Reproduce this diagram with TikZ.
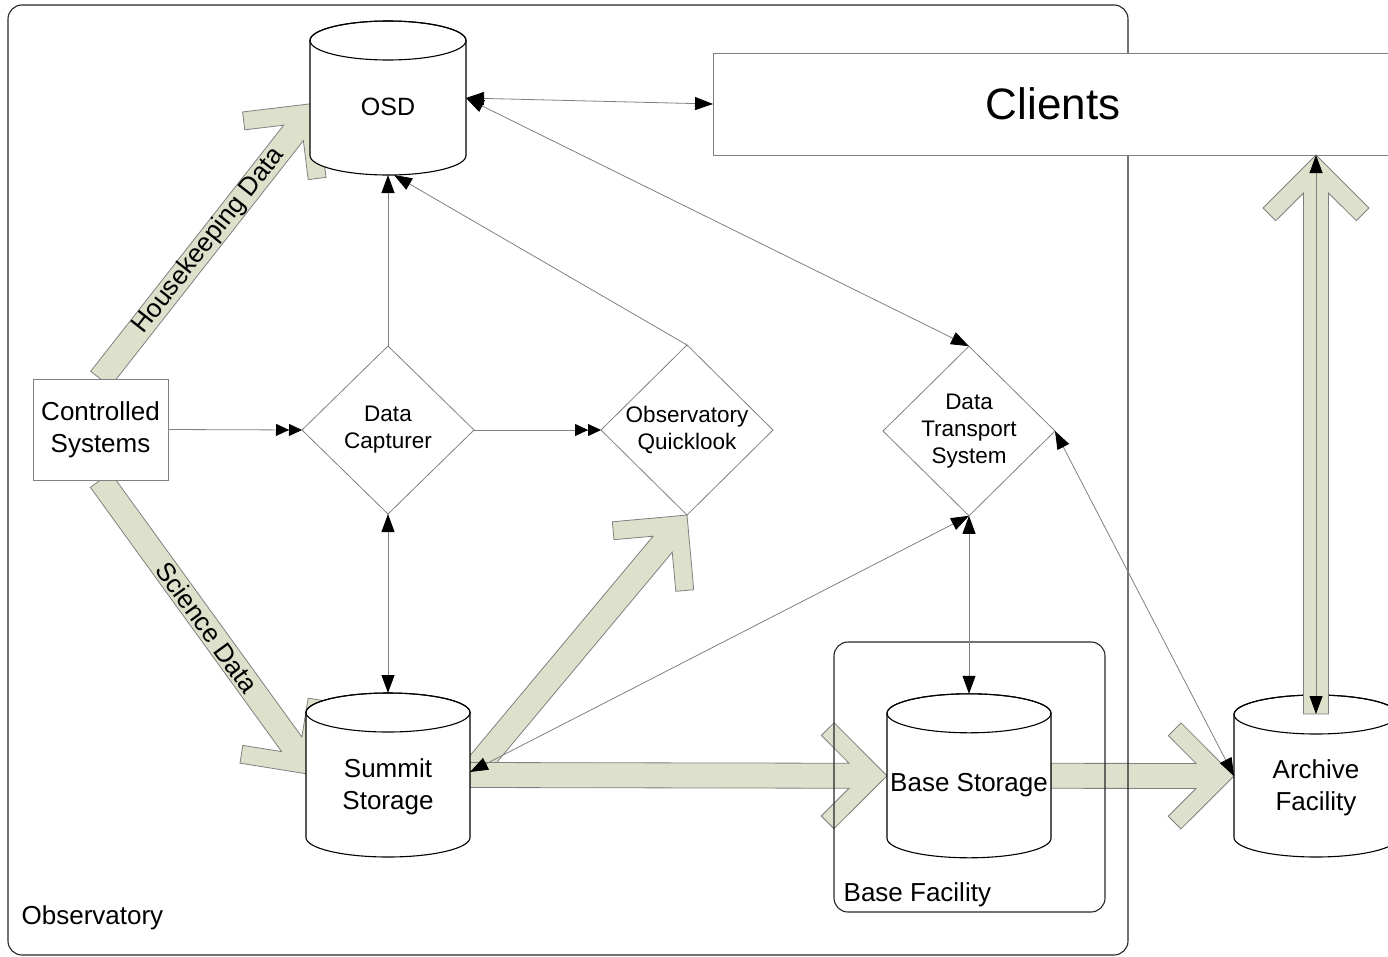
\documentclass[tikz,border=0pt]{standalone}
\usepackage{fontspec}
\setmainfont{Liberation Sans}
\usetikzlibrary{shapes.geometric,arrows.meta,positioning,calc,backgrounds}
\definecolor{FlowFill}{HTML}{DDE0CB}
\definecolor{LinkGray}{HTML}{808080}

\tikzset{
  store/.style={rectangle, minimum width=164pt, minimum height=164pt, inner sep=0pt, outer sep=0pt},
  drumline/.style={draw=black, line width=1.1pt, fill=white},
  storetext/.style={align=center, inner sep=0pt, font=\fontsize{26}{32}\selectfont},
  decide/.style={diamond, draw=LinkGray, line width=0.8pt, fill=white, minimum width=172pt,
    minimum height=168pt, inner sep=0pt, outer sep=0pt, align=center, font=\fontsize{22.5}{27}\selectfont},
  plainbox/.style={rectangle, draw=LinkGray, line width=0.9pt, fill=white, outer sep=0pt, align=center},
  group/.style={rectangle, draw=black!85, line width=1.1pt, rounded corners=14pt},
  grouplabel/.style={anchor=west, inner sep=0pt, font=\fontsize{26}{30}\selectfont},
  >={Triangle[length=18pt,width=13pt,color=black]},
  link/.style={draw=LinkGray, line width=0.8pt, ->},
  twolink/.style={draw=LinkGray, line width=0.8pt, <->},
  dbllink/.style={draw=LinkGray, line width=0.8pt,
    -{Triangle[length=13pt,width=12pt,color=black]Triangle[length=13pt,width=12pt,color=black]}},
  fatflow/.style={fill=FlowFill, draw=LinkGray, line width=0.8pt, line join=miter},
  fatlabel/.style={font=\fontsize{26}{30}\selectfont, inner sep=0pt}
}

% wide open-headed flow arrow, #1 = start, #2 = tip
\newcommand{\fatarrow}[2]{%
  \draw[fatflow] ($(#1)!12.5pt!90:(#2)$)
    -- ($(#2)!38pt!(#1)!12.5pt!-90:(#1)$)
    -- ($(#2)!65.7pt!(#1)!40.3pt!-90:(#1)$)
    -- ($(#2)!53pt!(#1)!53pt!-90:(#1)$)
    -- (#2)
    -- ($(#2)!53pt!(#1)!53pt!90:(#1)$)
    -- ($(#2)!65.7pt!(#1)!40.3pt!90:(#1)$)
    -- ($(#2)!38pt!(#1)!12.5pt!90:(#1)$)
    -- ($(#1)!12.5pt!-90:(#2)$) -- cycle;}

% database drum drawn over a store node, #1 = node, #2 = half width
\newcommand{\drum}[2]{%
  \path[drumline] ([yshift=-19.5pt]#1.north west) -- ([yshift=19.5pt]#1.south west)
    arc[start angle=180, end angle=360, x radius=#2, y radius=19.5pt]
    -- ([yshift=-19.5pt]#1.north east)
    arc[start angle=0, end angle=180, x radius=#2, y radius=19.5pt] -- cycle;
  \draw[drumline, fill=none] ([yshift=-19.5pt]#1.north) ellipse[x radius=#2, y radius=19.5pt];}

\begin{document}
\begin{tikzpicture}[x=1pt, y=-1pt]
  \useasboundingbox (0,0) rectangle (1388,956);
  \clip (0,0) rectangle (1388,956);

  % frames
  \node[group, minimum width=1120pt, minimum height=950pt] (obsframe) at (568,480) {};
  \node[grouplabel] at ($(obsframe.south west)+(14,-38)$) {Observatory};
  \node[group, minimum width=271pt, minimum height=270pt] (basegrp) at (969.5,777) {};
  \node[grouplabel] at ($(basegrp.south west)+(10,-18)$) {Base Facility};

  % nodes
  \node[plainbox, minimum width=680pt, minimum height=102pt, font=\fontsize{44}{50}\selectfont] (clients) at (1053,104) {Clients};
  \node[plainbox, minimum width=135pt, minimum height=101pt, font=\fontsize{26}{32}\selectfont] (ctl) at (100.5,429.5) {Controlled\\Systems};
  \node[store, minimum width=156pt, minimum height=154pt] (osd) at (388,98) {};
  \node[decide] (dc) at (388,430) {Data\\Capturer};
  \node[decide, right=127pt of dc] (qlook) {Observatory\\Quicklook};
  \node[decide] (dts) at (969,431) {Data\\Transport\\System};
  \node[store, below=179pt of dc] (summit) {};
  \node[store, below=178pt of dts] (base) {};
  \node[store, minimum height=162pt, anchor=north] (archive) at (1316,695) {};

  \drum{osd}{78pt}
  \drum{summit}{82pt}
  \drum{base}{82pt}
  \drum{archive}{82pt}

  % drum texts sit a little below the middle
  \node[storetext, font=\fontsize{25}{30}\selectfont] (osdtext) at ($(osd.north)!0.56!(osd.south)$) {OSD};
  \node[storetext] (summittext) at ($(summit.north)!0.573!(summit.south)$) {Summit\\Storage};
  \node[storetext] (basetext) at ($(base.north)!0.555!(base.south)$) {Base Storage};
  \node[storetext] (archivetext) at ($(archive.north)!0.575!(archive.south)$) {Archive\\Facility};

  \coordinate (hkTip) at ($(osd.west)+(7,5)$);
  \coordinate (sciTip) at ($(summit.west)+(8,0)$);
  \coordinate (upBase) at ($(archive.north)+(0,19)$);
  \coordinate (upTip) at (archive.north |- clients.south);

  % data flows
  \begin{pgfonlayer}{background}
    \fatarrow{ctl.north}{hkTip}
    \path (ctl.north) -- (hkTip) node[midway, sloped, fatlabel] {Housekeeping Data};
    \fatarrow{ctl.south}{sciTip}
    \path (ctl.south) -- (sciTip) node[midway, sloped, fatlabel] {Science Data};
    \fatarrow{summit.east}{qlook.south}
    \fatarrow{summit.east}{base.west}
    \fatarrow{base.east}{archive.west}
  \end{pgfonlayer}
  \fatarrow{upBase}{upTip}

  % connectors
  \draw[twolink] (osd.east) -- (clients.west);
  \draw[twolink] (osd.east) -- (dts.north);
  \draw[link] (dc.north) -- (osd.south);
  \draw[link] (qlook.north) -- ([xshift=6pt]osd.south);
  \draw[dbllink] (ctl.east) -- (dc.west);
  \draw[dbllink] (dc.east) -- (qlook.west);
  \draw[twolink] (dc.south) -- (summit.north);
  \draw[twolink] (dts.south) -- (base.north);
  \draw[twolink] ([yshift=3pt]summit.east) -- (dts.south);
  \draw[twolink] (archive.west) -- (dts.east);
  \draw[twolink] (upBase) -- (upTip);
\end{tikzpicture}
\end{document}
